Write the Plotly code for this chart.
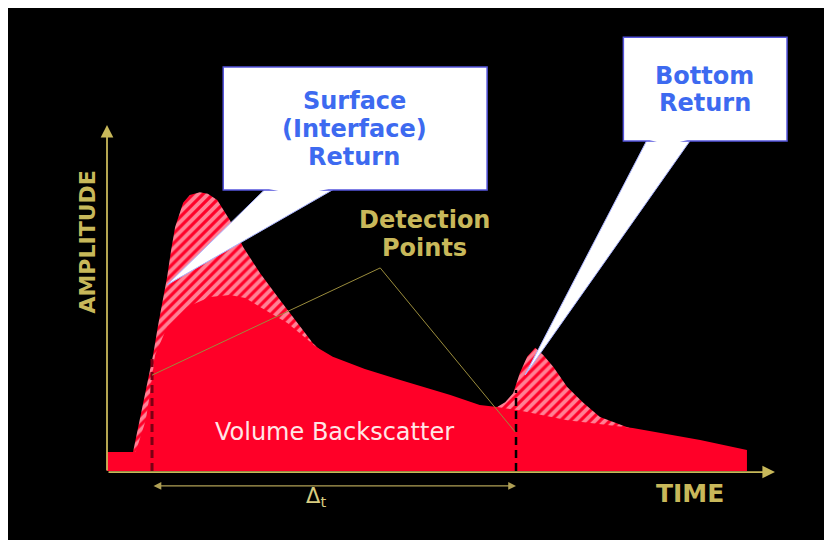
import plotly.graph_objects as go

# ---- data (time / amplitude, arbitrary units) ----
volume_t = [0, 3.9, 4.3, 5.8, 6.4, 7.2, 9.0, 12.0, 15.4, 18.4, 20.7, 22.9, 27.0, 31.4,
            33.8, 38.6, 43.9, 51.4, 55.8, 58.4, 61.4, 68.9, 78.7, 88.8, 95.8]
volume_a = [5.5, 5.5, 5.5, 14.7, 22.0, 33.5, 41.6, 47.4, 50.3, 50.9, 50.0, 47.4, 42.8, 35.8,
            33.0, 29.5, 26.3, 22.0, 19.1, 18.5, 17.6, 14.7, 12.4, 9.0, 6.1]

surface_t = [3.9, 4.9, 6.0, 6.9, 7.6, 8.4, 9.0, 9.6, 10.2, 11.4, 12.4, 13.9, 15.1, 16.5,
             18.4, 20.4, 22.9, 25.9, 28.9, 30.8, 32.2]
surface_a = [5.5, 14.7, 24.3, 33.5, 41.6, 49.4, 56.1, 63.9, 70.5, 77.5, 79.8, 80.6, 80.1, 78.3,
             72.5, 64.7, 57.2, 49.4, 41.6, 37.0, 34.4]

bottom_t = [58.4, 59.6, 60.8, 61.8, 62.9, 64.1, 65.3, 66.8, 68.9, 71.3, 73.8, 77.8, 80.5]
bottom_a = [18.5, 19.9, 22.5, 28.3, 33.0, 35.6, 33.5, 30.1, 24.3, 19.7, 15.6, 12.7, 11.0]

detect_t = [6.74, 61.23]          # detection instants
detect_a = [33.5, 23.4]           # heights of the marker lines
detect_label_t = [6.74, 40.9, 61.1]
detect_label_a = [27.7, 58.7, 11.3]

RED = "#ff0028"
OLIVE = "#c8b85a"
BLUE = "#3d6af0"

fig = go.Figure()

pat = dict(shape="/", bgcolor=RED, fgcolor="white", size=7, solidity=0.55)
fig.add_trace(go.Scatter(x=surface_t, y=surface_a, mode="lines", line=dict(width=0, color=RED),
                         fill="tozeroy", fillpattern=pat, fillcolor=RED, hoverinfo="skip"))
fig.add_trace(go.Scatter(x=bottom_t, y=bottom_a, mode="lines", line=dict(width=0, color=RED),
                         fill="tozeroy", fillpattern=pat, fillcolor=RED, hoverinfo="skip"))
fig.add_trace(go.Scatter(x=volume_t, y=volume_a, mode="lines", line=dict(width=0, color=RED),
                         fill="tozeroy", fillcolor=RED, hoverinfo="skip"))

# dashed detection markers
fig.add_trace(go.Scatter(x=[detect_t[0], detect_t[0]], y=[0, detect_a[0]], mode="lines",
                         line=dict(color="#7a0014", width=3, dash="8px,5px"), hoverinfo="skip"))
fig.add_trace(go.Scatter(x=[detect_t[1], detect_t[1]], y=[0, detect_a[1]], mode="lines",
                         line=dict(color="black", width=2.5, dash="8px,5px"), hoverinfo="skip"))
# leader lines of "Detection Points"
fig.add_trace(go.Scatter(x=detect_label_t, y=detect_label_a, mode="lines",
                         line=dict(color="#9a8c3c", width=1), hoverinfo="skip"))

shapes = []
# Surface callout
shapes.append(dict(type="path", xref="x", yref="y",
                   path="M 23.6 81.3 L 9.0 53.8 L 33.8 81.3 Z",
                   fillcolor="white", line=dict(color="#aab4ff", width=1)))
shapes.append(dict(type="rect", xref="x", yref="y", x0=17.4, y0=81.2, x1=56.9, y1=116.8,
                   fillcolor="white", line=dict(color="#5555dd", width=1.5)))
shapes.append(dict(type="path", xref="x", yref="y",
                   path="M 23.9 81.9 L 33.5 81.9 L 28.7 80 Z",
                   fillcolor="white", line=dict(color="white", width=2)))
# Bottom callout
shapes.append(dict(type="path", xref="x", yref="y",
                   path="M 80.8 95.5 L 62.6 27.8 L 87.3 95.5 Z",
                   fillcolor="white", line=dict(color="#aab4ff", width=1)))
shapes.append(dict(type="rect", xref="x", yref="y", x0=77.3, y0=95.4, x1=101.8, y1=125.4,
                   fillcolor="white", line=dict(color="#5555dd", width=1.5)))
shapes.append(dict(type="path", xref="x", yref="y",
                   path="M 81.1 96.0 L 87.0 96.0 L 84.0 94.5 Z",
                   fillcolor="white", line=dict(color="white", width=2)))

ann = []
# axes with arrows
ann.append(dict(x=0, y=100, ax=0, ay=-0.3, xref="x", yref="y", axref="x", ayref="y", text="",
                showarrow=True, arrowhead=2, arrowsize=1.4, arrowwidth=1.8, arrowcolor=OLIVE))
ann.append(dict(x=100, y=-0.3, ax=0, ay=-0.3, xref="x", yref="y", axref="x", ayref="y", text="",
                showarrow=True, arrowhead=2, arrowsize=1.4, arrowwidth=1.8, arrowcolor=OLIVE))
# delta-t arrow
ann.append(dict(x=detect_t[1], y=-4.3, ax=detect_t[0], ay=-4.3, xref="x", yref="y", axref="x",
                ayref="y", text="", showarrow=True, arrowhead=2, startarrowhead=2,
                arrowside="end+start", arrowsize=1.3, arrowwidth=1.2, arrowcolor="#b0a055"))

F = "DejaVu Sans"
def txt(x, y, s, size, color, bold=True, angle=0):
    ann.append(dict(x=x, y=y, xref="x", yref="y", text=f"<b>{s}</b>" if bold else s,
                    showarrow=False, textangle=angle,
                    font=dict(family=F, size=size, color=color)))

txt(37.0, 106.9, "Surface", 24, BLUE)
txt(37.0, 98.8, "(Interface)", 24, BLUE)
txt(37.0, 90.7, "Return", 24, BLUE)
txt(89.5, 114.2, "Bottom", 24, BLUE)
txt(89.5, 106.4, "Return", 24, BLUE)
txt(47.6, 72.5, "Detection", 24, OLIVE)
txt(47.6, 64.4, "Points", 24, OLIVE)
txt(34.1, 11.3, "Volume Backscatter", 24, "#ffe6e6", bold=False)
txt(87.3, -6.6, "TIME", 25, OLIVE)
txt(-2.9, 66.2, "AMPLITUDE", 22, OLIVE, angle=-90)
ann.append(dict(x=31.3, y=-7.5, xref="x", yref="y", text="Δ<sub>t</sub>", showarrow=False,
                font=dict(family=F, size=21, color="#d8cc80")))

fig.update_layout(
    width=832, height=540,
    margin=dict(l=0, r=0, t=0, b=0),
    paper_bgcolor="white", plot_bgcolor="black",
    showlegend=False,
    shapes=shapes, annotations=ann,
    xaxis=dict(range=[-14.82, 109.73], visible=False, fixedrange=True),
    yaxis=dict(range=[-22.25, 133.82], visible=False, fixedrange=True),
)
fig.write_html("out.html")
